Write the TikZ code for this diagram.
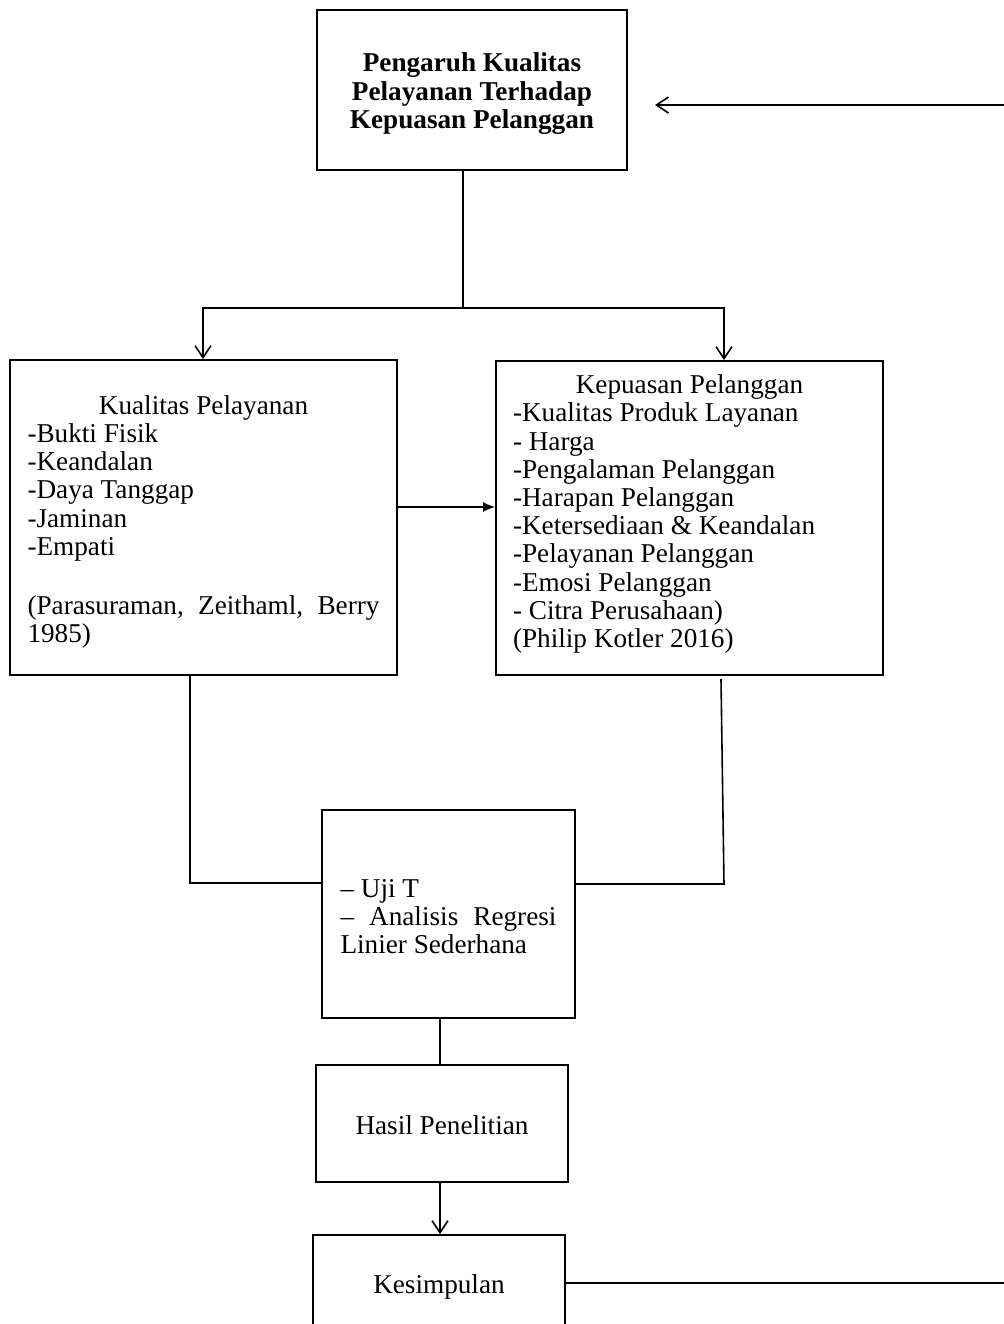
\documentclass[tikz,border=0pt]{standalone}
\usepackage{fontspec}
\setmainfont{Liberation Serif}
\usetikzlibrary{arrows.meta}
\newcommand{\shiftbox}[2]{\raisebox{#1}[\height][\depth]{#2}}
\begin{document}
\begin{tikzpicture}[x=0.5pt,y=-0.5pt,
  box/.style={draw,line width=0.9pt,inner sep=0pt,font=\fontsize{13.6}{14.1}\selectfont},
  conn/.style={line width=0.8pt},
  openarrow/.style={conn,-{Straight Barb[length=6pt,width=8pt,line width=0.8pt]}},
  fillarrow/.style={conn,-{Latex[length=6pt,width=5pt]}}]
\useasboundingbox (0,0) rectangle (1004,1324);
\node[box,minimum width=155pt,minimum height=80pt,font=\fontsize{13.6}{14.25}\selectfont\bfseries] (top) at (472,90)
  {\shiftbox{-2pt}{\parbox{150pt}{\centering Pengaruh Kualitas\\Pelayanan Terhadap\\Kepuasan Pelanggan}}};
\node[box,minimum width=193.5pt,minimum height=157.5pt] (left) at (203.5,517.5)
  {\shiftbox{-2.2pt}{\parbox{176pt}{\makebox[176pt][c]{Kualitas Pelayanan}\\-Bukti Fisik\\-Keandalan\\-Daya Tanggap\\-Jaminan\\-Empati\\[15.4pt]\hbox to 176pt{(Parasuraman,\hfill Zeithaml,\hfill Berry}\\1985)}}};
\node[box,minimum width=193.5pt,minimum height=157pt] (right) at (689.5,518)
  {\shiftbox{2pt}{\parbox{176.5pt}{\makebox[176.5pt][c]{Kepuasan Pelanggan}\\-Kualitas Produk Layanan\\- Harga\\-Pengalaman Pelanggan\\-Harapan Pelanggan\\-Ketersediaan \& Keandalan\\-Pelayanan Pelanggan\\-Emosi Pelanggan\\- Citra Perusahaan)\\(Philip Kotler 2016)}}};
\node[box,minimum width=126.5pt,minimum height=104pt] (mid) at (448.5,914)
  {\shiftbox{-1.3pt}{\parbox{108pt}{– Uji T\\\hbox to 108pt{–\hfill Analisis\hfill Regresi}\\Linier Sederhana}}};
\node[box,minimum width=126pt,minimum height=58.5pt] (hasil) at (442,1123.5) {\shiftbox{-1pt}{Hasil Penelitian}};
\node[box,minimum width=126pt,minimum height=52pt] (kes) at (439,1287) {Kesimpulan};
% connectors
\coordinate (r1) at (1004,105);
\coordinate (a1) at (655,105);
\draw[openarrow] (r1) -- (a1);
\coordinate (j) at (463,308);
\coordinate (lj) at (203,308);
\coordinate (rj) at (724,308);
\draw[conn] (j |- top.south) -- (j);
\draw[openarrow] (j) -- (lj) -- (lj |- left.north);
\draw[openarrow] (j) -- (rj) -- (rj |- right.north);
\coordinate (m) at (0,507);
\draw[fillarrow] (left.east |- m) -- (right.west |- m);
\coordinate (lb) at (190,883);
\draw[conn] (lb |- left.south) -- (lb) -- (lb -| mid.west);
\coordinate (rb1) at (721,679);
\coordinate (rb2) at (724,884);
\draw[conn] (rb1) -- (rb2) -- (rb2 -| mid.east);
\coordinate (v) at (440,0);
\draw[conn] (v |- mid.south) -- (v |- hasil.north);
\draw[openarrow] (v |- hasil.south) -- (v |- kes.north);
\coordinate (e) at (1004,1283);
\draw[conn] (kes.east |- e) -- (e);
\end{tikzpicture}
\end{document}
